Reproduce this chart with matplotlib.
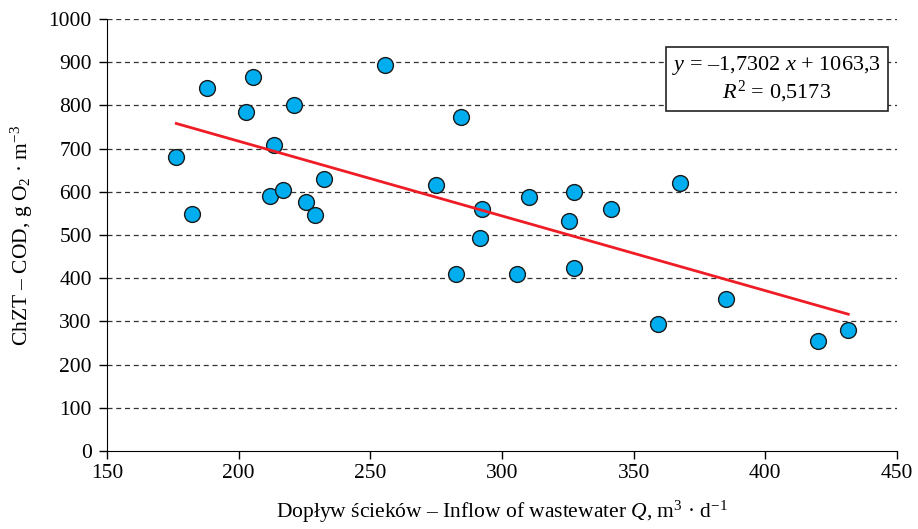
import matplotlib.pyplot as plt
import numpy as np

# inflow Q, m3/d
inflow = [176.3, 182.4, 188.0, 202.7, 205.3, 211.9, 213.3, 216.7, 220.9, 225.6,
          228.9, 232.3, 255.6, 275.1, 282.6, 284.5, 291.5, 292.5, 305.6, 310.4,
          325.5, 327.2, 327.2, 341.3, 359.3, 367.6, 385.1, 420.0, 431.5]
# COD, g O2/m3
cod = [681, 548, 841, 785, 865, 591, 708, 605, 801, 576,
       546, 630, 894, 615, 410, 774, 494, 560, 410, 587,
       533, 599, 424, 560, 295, 620, 351, 255, 280]

slope = -1.7302
intercept = 1063.3
r2 = 0.5173

xTicks = [150, 200, 250, 300, 350, 400, 450]
yTicks = [0, 100, 200, 300, 400, 500, 600, 700, 800, 900, 1000]

plt.rcParams['font.family'] = ['Liberation Serif', 'DejaVu Serif']
plt.rcParams['mathtext.fontset'] = 'custom'
plt.rcParams['mathtext.rm'] = 'Liberation Serif'
plt.rcParams['mathtext.it'] = 'Liberation Serif:italic'

fig = plt.figure(figsize=(9.18, 5.29), dpi=100)
ax = fig.add_axes([0.1166, 0.1474, 0.8605, 0.8166])

ax.set_xlim(150, 450)
ax.set_ylim(0, 1000)
ax.set_xticks(xTicks)
ax.set_yticks(yTicks)
ax.tick_params(labelsize=15.5, length=6, width=1, direction='out', pad=3)
ax.tick_params(axis='y', pad=5)

for yv in yTicks[1:]:
    ax.axhline(yv, color='#333333', lw=0.9, ls=(0, (4, 3)), zorder=0)

ax.spines['top'].set_visible(False)
ax.spines['right'].set_visible(False)

ax.scatter(inflow, cod, s=130, color='#00AEEF', edgecolors='#1a1a1a',
           linewidths=1.0, zorder=3)

xl = np.array([min(inflow), max(inflow)])
ax.plot(xl, slope * xl + intercept, color='#EE1C25', lw=2.0, zorder=4)

eq = '$y$ = \u20131,7302 $x$ + 1063,3\n$R^2$ = 0,5173'
ax.text(0.848, 0.860, eq, transform=ax.transAxes, ha='center', va='center',
        fontsize=16, linespacing=1.05, zorder=5,
        bbox=dict(boxstyle='square,pad=0.3', fc='white', ec='#222222', lw=1.2))

ax.set_xlabel('Dopływ ścieków \u2013 Inflow of wastewater $Q$, m$^3$ \u00b7 d$^{-1}$',
              fontsize=15.5, labelpad=12)
ax.set_ylabel('ChZT \u2013 COD, g O$_2$ \u00b7 m$^{-3}$', fontsize=15.5, labelpad=10)

fig.savefig('out.png', dpi=100)
